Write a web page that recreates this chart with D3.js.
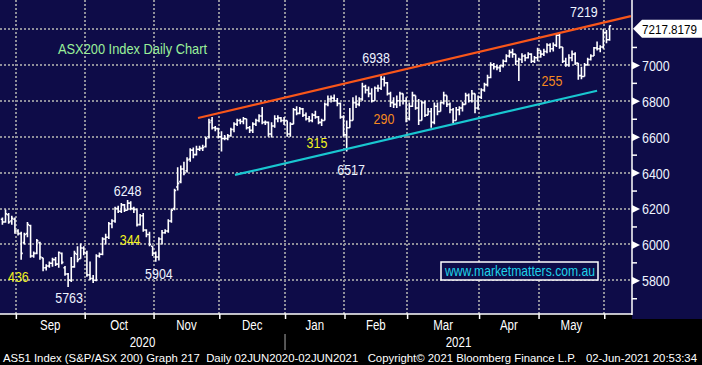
<!DOCTYPE html>
<html><head><meta charset="utf-8">
<script src="https://cdn.jsdelivr.net/npm/d3@7"></script>
<style>html,body{margin:0;padding:0;background:#000;overflow:hidden}svg{display:block}</style>
</head><body><svg id="c" width="702" height="365"></svg>
<script>
// ---------- DATA ----------
const firstDay = "2020-08-25", lastDay = "2021-06-02";
const holidays = ["2020-12-25","2020-12-28","2021-01-01","2021-01-26","2021-04-02","2021-04-05","2021-04-26"];
const monthLabels = ["Sep","Oct","Nov","Dec","Jan","Feb","Mar","Apr","May"];
const yearLabels = ["2020","2021"];
const yMajor = [5800,6000,6200,6400,6600,6800,7000];
const yGrid = [5800,6000,6200,6400,6600,6800,7000,7200];
const yMinor = [5700,5900,6100,6300,6500,6700,6900,7100];
const lastValueLabel = "7217.8179";

const open = [
 6140,6125,6165,6130,6140,
 6075,6060,6010,6060,6105,5935,5950,6010,5925,5870,5880,5895,5915,5890,5950,5870,5835,5800,5875,5945,5920,5980,
 5950,5830,5810,5800,5935,5945,6030,6040,6115,6130,6200,6185,6220,6190,6230,6200,6195,6110,6160,6080,6055,5990,
 5950,5930,6030,6065,6075,6130,6200,6320,6350,6420,6410,6475,6525,6500,6530,6535,6545,6600,6690,6650,6645,
 6600,6590,6590,6605,6640,6670,6690,6685,6700,6650,6635,6670,6690,6715,6680,6680,6615,6660,6700,6705,6690,
 6690,6615,6670,6750,6730,6755,6720,6700,6690,6720,6710,6680,6690,6780,6810,6815,6800,6785,6710,
 6610,6650,6690,6790,6780,6810,6880,6860,6840,6800,6870,6870,6920,6900,6840,6790,6780,6800,6840,6800,
 6700,6770,6830,6760,6690,6790,6720,6740,6680,6770,6740,6790,6830,6780,6750,6690,6750,6760,6780,6830,6800,6840,6760,
 6820,6860,6890,6930,7000,6990,6985,6995,7020,7050,7070,7060,7020,7030,7050,7040,7060,7020,7040,
 7080,7060,7075,7110,7090,7110,7165,7100,7020,7000,7040,7060,7010,6940,6935,7000,7030,7050,7095,7090,7100,
 7180,7140];
const high = [
 6150,6195,6175,6160,6150,
 6085,6070,6065,6125,6110,5960,6030,6015,5920,5890,5905,5925,5930,5960,5955,5880,5840,5930,5965,5990,6005,5990,
 5965,5905,5830,5945,5955,6040,6060,6125,6140,6210,6215,6230,6225,6248,6240,6210,6195,6170,6175,6085,6070,5990,
 5960,6040,6080,6085,6140,6200,6310,6430,6440,6460,6485,6535,6540,6550,6550,6555,6600,6700,6710,6660,6650,
 6630,6610,6615,6650,6680,6700,6700,6710,6700,6660,6680,6700,6725,6765,6690,6685,6680,6720,6720,6710,6710,
 6690,6680,6760,6770,6765,6760,6735,6715,6730,6745,6715,6700,6790,6830,6830,6835,6815,6790,6720,
 6690,6760,6820,6830,6820,6900,6890,6880,6870,6880,6890,6938,6935,6905,6850,6820,6830,6850,6840,6820,
 6790,6850,6820,6810,6800,6800,6760,6760,6790,6790,6795,6850,6830,6790,6760,6765,6770,6795,6845,6840,6860,6840,6830,
 6870,6900,6945,7015,7010,7000,7000,7030,7060,7085,7090,7060,7040,7065,7060,7070,7065,7050,7095,
 7080,7090,7120,7120,7125,7175,7180,7100,7040,7060,7080,7070,7010,6990,7010,7040,7060,7100,7130,7110,7200,
 7195,7219];
const low = [
 6110,6120,6115,6110,6060,
 6050,5915,6000,6040,5925,5925,5945,5915,5850,5855,5870,5875,5880,5870,5890,5825,5763,5790,5870,5900,5940,5940,
 5820,5800,5785,5795,5925,5940,6000,6030,6090,6120,6175,6175,6180,6190,6190,6175,6100,6105,6070,6040,5990,5935,
 5904,5910,6000,6060,6065,6120,6190,6300,6340,6385,6400,6460,6480,6495,6520,6520,6540,6590,6640,6630,6590,
 6517,6580,6580,6600,6625,6660,6670,6670,6640,6620,6620,6660,6680,6670,6665,6600,6595,6650,6680,6680,6665,
 6600,6600,6670,6720,6725,6710,6690,6680,6680,6700,6670,6660,6690,6770,6790,6795,6770,6700,6600,
 6517,6650,6690,6760,6770,6800,6840,6820,6790,6800,6850,6860,6880,6830,6765,6760,6760,6770,6780,6680,
 6690,6765,6750,6665,6690,6710,6720,6650,6670,6720,6760,6780,6765,6730,6675,6690,6720,6740,6780,6790,6790,6730,6750,
 6810,6850,6880,6925,6975,6970,6960,6985,7015,7040,7040,7000,6910,7010,7020,7035,7010,7010,7020,
 7040,7050,7065,7070,7075,7100,7090,7010,6990,6990,7020,7000,6917,6920,6935,6995,7025,7050,7080,7070,7090,
 7120,7135];
const close = [
 6125,6170,6125,6145,6075,
 6060,5950,6055,6110,5935,5950,6020,5930,5870,5880,5895,5915,5890,5955,5900,5835,5800,5875,5950,5915,5980,5955,
 5830,5810,5800,5935,5945,6030,6040,6115,6130,6200,6185,6220,6190,6230,6200,6195,6110,6160,6080,6055,6000,5950,
 5930,6030,6065,6075,6130,6190,6300,6340,6420,6400,6470,6525,6500,6530,6535,6540,6590,6680,6650,6645,6600,
 6590,6590,6605,6640,6670,6690,6685,6700,6650,6635,6670,6690,6715,6680,6680,6615,6660,6700,6705,6690,6690,
 6615,6670,6750,6730,6755,6720,6700,6690,6720,6710,6680,6690,6780,6810,6815,6800,6785,6710,6610,
 6650,6690,6790,6780,6810,6880,6860,6840,6800,6870,6870,6920,6900,6840,6790,6780,6800,6840,6800,6700,
 6770,6830,6760,6690,6790,6720,6740,6680,6770,6740,6790,6830,6780,6750,6690,6750,6760,6780,6830,6800,6840,6760,6820,
 6860,6890,6930,7000,6990,6985,6995,7020,7050,7070,7060,7020,7030,7050,7040,7060,7020,7040,7080,
 7060,7075,7110,7090,7110,7165,7100,7020,7000,7040,7060,7010,6940,6935,7000,7030,7050,7095,7090,7100,7180,
 7140,7217.8179];

// trend channel endpoints: [trading-day index, index level]
const upperTrend = [[62.5, 6704], [200.8, 7272]];
const lowerTrend = [[74.3, 6387], [190.0, 6856]];

// annotations: [text, trading-day index, level, colour]
const notes = [
 ["436", 5.1, 5790, "#f2f21e"],
 ["5763", 21.3, 5673, "#eef4ff"],
 ["6248", 40.0, 6270, "#eef4ff"],
 ["344", 40.8, 5997, "#f2f21e"],
 ["5904", 50.0, 5807, "#eef4ff"],
 ["315", 100.5, 6537, "#f2f21e"],
 ["6938", 119.4, 7011, "#eef4ff"],
 ["290", 121.9, 6671, "#f58a1f"],
 ["6517", 111.4, 6387, "#eef4ff"],
 ["7219", 185.8, 7267, "#eef4ff"],
 ["255", 175.6, 6882, "#f58a1f"]
];

// ---------- LAYOUT ----------
const W = 702, H = 365, plotR = 632, plotB = 314;
const NAVY = "#0e0c48";
const FONT = "'Liberation Sans', Arial, sans-serif";

const parse = d3.utcParse("%Y-%m-%d"), fmt = d3.utcFormat("%Y-%m-%d");
const dates = [];
for (let d = parse(firstDay); d <= parse(lastDay); d = d3.utcDay.offset(d, 1)) {
  const wd = d.getUTCDay();
  if (wd === 0 || wd === 6 || holidays.includes(fmt(d))) continue;
  dates.push(d);
}
const data = dates.map((d, i) => ({d, i, o: open[i], h: high[i], l: low[i], c: close[i]}));

const x = d3.scaleLinear().domain([0, dates.length - 1]).range([2.4, 609.6]);
const y = d3.scaleLinear().domain([5800, 7200]).range([280.3, 29]);

const monthStarts = [];
for (let i = 1; i < dates.length; i++) if (dates[i].getUTCMonth() !== dates[i-1].getUTCMonth()) monthStarts.push(i);
const bx = i => x(i - 0.7);

const svg = d3.select("#c");
svg.append("rect").attr("width", W).attr("height", H).attr("fill", "#000");
svg.append("rect").attr("x", 0).attr("y", 0).attr("width", plotR).attr("height", plotB).attr("fill", NAVY);
svg.append("rect").attr("x", plotR).attr("y", 0).attr("width", W - plotR).attr("height", plotB + 5).attr("fill", NAVY);

// grid
const grid = svg.append("g").attr("stroke", "#8f8f9a").attr("stroke-width", 2).attr("stroke-dasharray", "2,2");
grid.selectAll("line.h").data(yGrid).join("line").attr("class", "h")
  .attr("x1", 0).attr("x2", plotR).attr("y1", d => Math.round(y(d))).attr("y2", d => Math.round(y(d)));
grid.selectAll("line.v").data(monthStarts).join("line").attr("class", "v")
  .attr("x1", d => Math.round(bx(d))).attr("x2", d => Math.round(bx(d))).attr("y1", 0).attr("y2", plotB);

function condensed(sel, k) {
  sel.each(function() { const w = this.getComputedTextLength(); d3.select(this).attr("textLength", w * k).attr("lengthAdjust", "spacingAndGlyphs"); });
}

// title
svg.append("text").attr("x", 58).attr("y", 54).attr("fill", "#9af09a").attr("font-family", FONT).attr("font-size", 15)
  .text("ASX200 Index Daily Chart").attr("textLength", 149).attr("lengthAdjust", "spacingAndGlyphs");

// bars
const bars = svg.append("g").attr("stroke", "#fff").attr("stroke-width", 1.6).attr("fill", "none");
bars.selectAll("path").data(data).join("path")
  .attr("d", d => {
    const cx = x(d.i), hi = Math.max(d.h, d.o, d.c), lo = Math.min(d.l, d.o, d.c);
    return `M${cx},${y(hi)}V${y(lo)}M${cx - 1.6},${y(d.o)}H${cx}M${cx},${y(d.c)}H${cx + 1.6}`;
  });

// trend lines
const line = d3.line().x(d => x(d[0])).y(d => y(d[1]));
svg.append("path").attr("d", line(upperTrend)).attr("stroke", "#f8561a").attr("stroke-width", 2.2).attr("fill", "none");
svg.append("path").attr("d", line(lowerTrend)).attr("stroke", "#19c6d0").attr("stroke-width", 2.2).attr("fill", "none");

// annotations
svg.append("g").selectAll("text").data(notes).join("text")
  .attr("x", d => x(d[1])).attr("y", d => y(d[2])).attr("text-anchor", "middle")
  .attr("fill", d => d[3]).attr("font-family", FONT).attr("font-size", 15).text(d => d[0])
  .call(condensed, 0.83);

// website box
svg.append("rect").attr("x", 441).attr("y", 262).attr("width", 157).attr("height", 18)
  .attr("fill", NAVY).attr("stroke", "#fff").attr("stroke-width", 1.5);
svg.append("text").attr("x", 445).attr("y", 276).attr("fill", "#1ed2ea").attr("font-family", FONT).attr("font-size", 15)
  .text("www.marketmatters.com.au").attr("textLength", 150).attr("lengthAdjust", "spacingAndGlyphs");

// right axis
const ra = svg.append("g").attr("transform", `translate(${plotR},0)`);
ra.call(d3.axisRight(y).tickValues(yMinor).tickSize(5).tickFormat(""));
const rb = svg.append("g").attr("transform", `translate(${plotR},0)`);
rb.call(d3.axisRight(y).tickValues(yMajor).tickSize(0).tickPadding(10).tickFormat(d3.format("d")));
ra.select(".domain").remove(); rb.select(".domain").remove();
ra.selectAll("line").attr("stroke", "#fff").attr("stroke-width", 1.5);
rb.selectAll(".tick").append("path").attr("d", "M0,-4L8,0L0,4Z").attr("fill", "#fff");
rb.selectAll("text").attr("fill", "#eef4ff").attr("font-family", FONT).attr("font-size", 15).attr("dy", "0.36em").call(condensed, 0.83);
svg.append("line").attr("x1", plotR).attr("x2", plotR).attr("y1", 0).attr("y2", plotB + 1).attr("stroke", "#fff").attr("stroke-width", 1.5);

// last value tag
const ty = y(close[close.length - 1]);
svg.append("path").attr("d", `M${plotR + 1},${ty + 3}L${plotR + 10},${ty - 6}H${W}V${ty + 12}H${plotR + 10}Z`).attr("fill", "#fff");
svg.append("text").attr("x", 642).attr("y", ty + 8).attr("fill", "#000").attr("font-family", FONT).attr("font-size", 13)
  .text(lastValueLabel).attr("textLength", 55).attr("lengthAdjust", "spacingAndGlyphs");

// bottom axis
const ba = svg.append("g").attr("transform", `translate(0,${plotB})`);
ba.call(d3.axisBottom(x).tickValues(monthStarts.map(i => i - 0.7)).tickSize(5).tickFormat(""));
ba.select(".domain").remove();
ba.selectAll("line").attr("stroke", "#fff").attr("stroke-width", 1.5);
svg.append("line").attr("x1", 0).attr("x2", plotR).attr("y1", plotB).attr("y2", plotB).attr("stroke", "#fff").attr("stroke-width", 1.5);

const bounds = monthStarts.map(bx);
svg.append("g").selectAll("text").data(monthLabels).join("text")
  .attr("x", (d, k) => (bounds[k] + bounds[k + 1]) / 2).attr("y", 330).attr("text-anchor", "middle")
  .attr("fill", "#fff").attr("font-family", FONT).attr("font-size", 14).text(d => d)
  .call(condensed, 0.82);

const yearSplit = bounds[monthLabels.indexOf("Jan")];
svg.append("line").attr("x1", yearSplit).attr("x2", yearSplit).attr("y1", 334).attr("y2", 350).attr("stroke", "#aaa").attr("stroke-width", 1);
svg.append("g").selectAll("text").data(yearLabels).join("text")
  .attr("x", (d, k) => k === 0 ? yearSplit / 2 : (yearSplit + plotR) / 2).attr("y", 347).attr("text-anchor", "middle")
  .attr("fill", "#fff").attr("font-family", FONT).attr("font-size", 14).text(d => d)
  .call(condensed, 0.82);

svg.append("text").attr("x", 3).attr("y", 362).attr("fill", "#fff").attr("font-family", FONT).attr("font-size", 11)
  .text("AS51 Index (S&P/ASX 200) Graph 217  Daily 02JUN2020-02JUN2021   Copyright\u00A9 2021 Bloomberg Finance L.P.   02-Jun-2021 20:53:34")
  .attr("textLength", 694).attr("lengthAdjust", "spacingAndGlyphs").attr("xml:space", "preserve");
</script></body></html>
